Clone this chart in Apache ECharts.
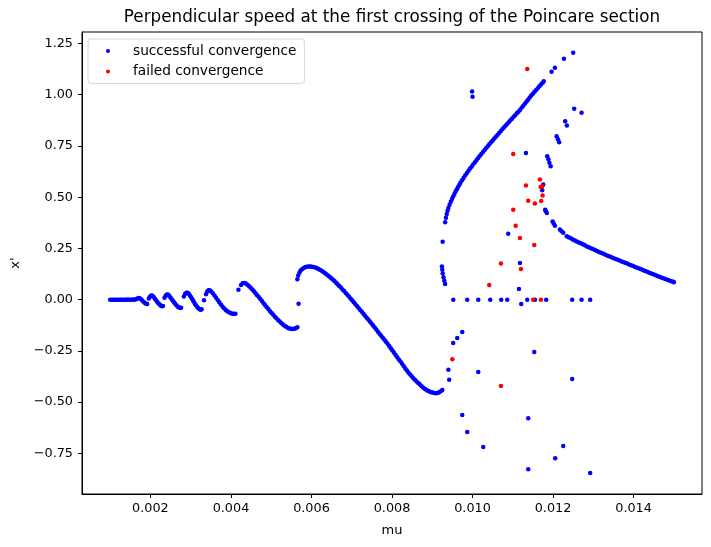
<!DOCTYPE html>
<html>
<head>
<meta charset="utf-8">
<title>Perpendicular speed</title>
<script src="https://cdn.jsdelivr.net/npm/echarts@6/dist/echarts.min.js"></script>
<style>
html, body { margin: 0; padding: 0; background: #fff; }
#main { width: 711px; height: 547px; }
</style>
</head>
<body>
<div id="main"></div>
<script>
// tick labels
var xTicks = [0.002, 0.004, 0.006, 0.008, 0.010, 0.012, 0.014];
var yTicks = [-0.75, -0.5, -0.25, 0, 0.25, 0.5, 0.75, 1.0, 1.25];

// flat start + small saw teeth (mu 0.001 .. 0.0057)
var okTeeth = [
    [0.00100,0],[0.00104,0],[0.00108,0],[0.00112,0],[0.00116,0],[0.00120,0],[0.00124,0],[0.00128,0],
    [0.00132,0],[0.00136,0],[0.00140,0],[0.00144,0.001],[0.00148,0],[0.00152,0],[0.00156,0.001],[0.00160,0],[0.00164,0.002],
    [0.00167,0.005],[0.00170,0.008],[0.00173,0.007],[0.00176,0.003],[0.00179,-0.003],[0.00182,-0.009],[0.00185,-0.014],[0.00188,-0.018],[0.00192,-0.021],
    [0.00196,0.006],[0.00199,0.015],[0.00202,0.020],[0.00205,0.019],[0.00208,0.013],[0.00211,0.005],[0.00214,-0.003],[0.00217,-0.011],
    [0.00220,-0.018],[0.00223,-0.024],[0.00226,-0.029],[0.00229,-0.032],[0.00231,-0.031],
    [0.00235,0.010],[0.00238,0.020],[0.00241,0.025],[0.00244,0.024],[0.00247,0.018],[0.00250,0.010],[0.00253,0.002],[0.00256,-0.006],
    [0.00259,-0.014],[0.00262,-0.021],[0.00265,-0.028],[0.00268,-0.034],[0.00271,-0.038],[0.00274,-0.040],[0.00276,-0.039],
    [0.00283,0.016],[0.00286,0.028],[0.00289,0.034],[0.00292,0.034],[0.00295,0.029],[0.00298,0.021],[0.00301,0.012],[0.00304,0.002],
    [0.00307,-0.008],[0.00310,-0.018],[0.00313,-0.027],[0.00316,-0.035],[0.00319,-0.042],[0.00322,-0.047],[0.00325,-0.049],[0.00327,-0.047],
    [0.00333,-0.003],
    [0.00338,0.026],[0.00341,0.040],[0.00344,0.046],[0.00347,0.046],[0.00351,0.040],[0.00355,0.031],[0.00359,0.021],[0.00363,0.010],
    [0.00367,-0.001],[0.00371,-0.012],[0.00375,-0.023],[0.00379,-0.033],[0.00383,-0.042],[0.00387,-0.050],[0.00391,-0.056],[0.00395,-0.061],
    [0.00399,-0.065],[0.00403,-0.068],[0.00407,-0.069],[0.00411,-0.068],
    [0.004185,0.049],[0.00425,0.072],[0.00429,0.080],[0.00433,0.082],[0.00437,0.079],[0.00441,0.073],[0.00445,0.066],[0.00449,0.058],
    [0.00453,0.050],[0.00457,0.041],[0.00461,0.032],[0.00465,0.022],[0.00469,0.013],[0.00473,0.003],[0.00477,-0.007],[0.00481,-0.017],
    [0.00485,-0.027],[0.00489,-0.037],[0.00493,-0.046],[0.00497,-0.056],[0.00501,-0.065],[0.00505,-0.074],[0.00509,-0.083],[0.00513,-0.091],
    [0.00517,-0.099],[0.00521,-0.107],[0.00525,-0.114],[0.00529,-0.121],[0.00533,-0.127],[0.00537,-0.132],[0.00541,-0.137],[0.00545,-0.140],
    [0.00549,-0.142],[0.00553,-0.143],[0.00557,-0.142],[0.00561,-0.139],[0.00565,-0.134],
    [0.00568,-0.020]
];

// big wave (mu 0.00565 .. 0.00925)
var okWave = [
    [0.00565,0.100],[0.00567,0.118],[0.00570,0.132],[0.00573,0.142],[0.00577,0.150],[0.00581,0.155],[0.00585,0.159],[0.00589,0.161],
    [0.00593,0.162],[0.00597,0.162],[0.00601,0.161],[0.00605,0.159],[0.00609,0.157],[0.00613,0.154],[0.00617,0.150],[0.00621,0.146],
    [0.00625,0.141],[0.00629,0.136],[0.00633,0.130],[0.00637,0.124],[0.00641,0.118],[0.00645,0.112],[0.00649,0.105],[0.00653,0.098],
    [0.00657,0.091],[0.00661,0.083],[0.00665,0.075],[0.00669,0.067],[0.00673,0.059],[0.00677,0.050],[0.00681,0.042],[0.00685,0.033],
    [0.00689,0.024],[0.00693,0.015],[0.00697,0.006],[0.00701,-0.003],[0.00705,-0.012],[0.00709,-0.022],[0.00713,-0.031],[0.00717,-0.040],
    [0.00721,-0.050],[0.00725,-0.059],[0.00729,-0.069],[0.00733,-0.078],[0.00737,-0.088],[0.00741,-0.097],[0.00745,-0.106],[0.00749,-0.116],
    [0.00753,-0.126],[0.00757,-0.136],[0.00761,-0.146],[0.00765,-0.156],[0.00769,-0.166],[0.00773,-0.176],[0.00777,-0.186],[0.00781,-0.195],
    [0.00785,-0.205],[0.00789,-0.215],[0.00793,-0.226],[0.00797,-0.237],[0.00801,-0.248],[0.00805,-0.259],[0.00809,-0.270],[0.00813,-0.281],
    [0.00817,-0.292],[0.00821,-0.302],[0.00825,-0.313],[0.00829,-0.324],[0.00833,-0.336],[0.00837,-0.346],[0.00841,-0.356],[0.00845,-0.365],
    [0.00849,-0.374],[0.00853,-0.383],[0.00857,-0.391],[0.00861,-0.399],[0.00865,-0.406],[0.00869,-0.413],[0.00873,-0.421],[0.00877,-0.428],
    [0.00881,-0.434],[0.00885,-0.439],[0.00889,-0.444],[0.00893,-0.448],[0.00897,-0.451],[0.00901,-0.453],[0.00905,-0.455],[0.00909,-0.456],
    [0.00913,-0.455],[0.00917,-0.452],[0.00921,-0.447],[0.00925,-0.441]
];

// upper branch rising to 1.2
var okUpper = [
    [0.00932,0.378],[0.00934,0.400],[0.00936,0.418],[0.00938,0.434],[0.00940,0.447],[0.00943,0.463],[0.00946,0.478],[0.00949,0.491],
    [0.00952,0.504],[0.00955,0.516],[0.00958,0.528],[0.00961,0.539],[0.00964,0.550],[0.00967,0.560],[0.00970,0.570],[0.00974,0.583],
    [0.00978,0.595],[0.00982,0.607],[0.00986,0.618],[0.00990,0.629],[0.00994,0.640],[0.00998,0.650],[0.01002,0.661],[0.01006,0.671],
    [0.01010,0.681],[0.01014,0.691],[0.01018,0.701],[0.01022,0.711],[0.01026,0.721],[0.01030,0.730],[0.01034,0.740],[0.01038,0.749],
    [0.01042,0.759],[0.01046,0.768],[0.01050,0.777],[0.01054,0.786],[0.01058,0.795],[0.01062,0.804],[0.01066,0.813],[0.01070,0.822],
    [0.01074,0.831],[0.01078,0.840],[0.01082,0.849],[0.01086,0.857],[0.01090,0.866],[0.01094,0.875],[0.01098,0.883],[0.01102,0.892],
    [0.01106,0.900],[0.01110,0.909],[0.01114,0.917],[0.01118,0.926],[0.01122,0.936],[0.01126,0.946],[0.01130,0.956],[0.01134,0.966],
    [0.01138,0.976],[0.01142,0.986],[0.01146,0.996],[0.01150,1.005],[0.01154,1.014],[0.01158,1.023],[0.01162,1.032],[0.01166,1.041],
    [0.01170,1.050],[0.01174,1.059],[0.01177,1.066],
    [0.011964,1.112],[0.012046,1.131],[0.01227,1.175],[0.012501,1.205]
];

// right-hand branch, both arms and the tail to 0.015
var okRight = [
    [0.012709,0.912],[0.012526,0.931],[0.012302,0.871],[0.012343,0.850],[0.012089,0.797],[0.012122,0.783],[0.012153,0.768],
    [0.011855,0.700],[0.011885,0.685],[0.01191,0.668],[0.01194,0.651],
    [0.011805,0.439],[0.01182,0.431],[0.011846,0.423],[0.011989,0.382],[0.012015,0.372],[0.012046,0.361],
    [0.012171,0.342],[0.012212,0.334],[0.012253,0.326],
    [0.01234,0.310],[0.01239,0.305],[0.01244,0.300],[0.01249,0.294],[0.01254,0.289],[0.01259,0.284],[0.01264,0.279],[0.01269,0.275],
    [0.01274,0.270],[0.01279,0.265],[0.01284,0.260],[0.01289,0.256],[0.01294,0.251],[0.01299,0.247],[0.01304,0.242],[0.01309,0.238],
    [0.01314,0.233],[0.01319,0.229],[0.01324,0.225],[0.01329,0.220],[0.01334,0.216],[0.01339,0.212],[0.01344,0.208],[0.01349,0.204],
    [0.01354,0.200],[0.01359,0.196],[0.01364,0.192],[0.01369,0.188],[0.01374,0.184],[0.01379,0.180],[0.01384,0.176],[0.01389,0.172],
    [0.01394,0.168],[0.01399,0.164],[0.01404,0.160],[0.01409,0.156],[0.01414,0.152],[0.01419,0.148],[0.01424,0.144],[0.01429,0.140],
    [0.01434,0.136],[0.01439,0.132],[0.01444,0.128],[0.01449,0.124],[0.01454,0.120],[0.01459,0.116],[0.01464,0.112],[0.01469,0.108],
    [0.01474,0.104],[0.01479,0.101],[0.01484,0.097],[0.01489,0.094],[0.01494,0.090],[0.01499,0.087],[0.01500,0.085]
];

// scattered successful points
var okScatter = [
    [0.00924,0.162],[0.00925,0.146],[0.00926,0.128],[0.00928,0.110],[0.00930,0.092],[0.00932,0.076],[0.009258,0.283],
    [0.00940,-0.342],[0.00942,-0.391],[0.00952,-0.211],[0.00962,-0.187],[0.009745,-0.158],
    [0.00999,1.016],[0.01000,0.990],[0.011327,0.716],[0.010887,0.322],[0.011178,0.179],[0.011153,0.052],[0.01121,-0.021],
    [0.011756,0.562],[0.011731,0.534],
    [0.009522,0],[0.009869,0],[0.010142,0],[0.01044,0],[0.010713,0],[0.010862,0],[0.011359,0],[0.01155,0],
    [0.01183,0],[0.012476,0],[0.012709,0],[0.012923,0],
    [0.011533,-0.255],[0.010142,-0.353],[0.012476,-0.387],[0.009745,-0.563],[0.009869,-0.646],[0.010267,-0.719],
    [0.011384,-0.578],[0.012253,-0.714],[0.012054,-0.773],[0.011384,-0.827],[0.012923,-0.846]
];

// failed convergence
var failed = [
    [0.011359,1.126],[0.011011,0.711],[0.011674,0.586],[0.011692,0.550],[0.011731,0.553],[0.011741,0.508],
    [0.011327,0.557],[0.011384,0.483],[0.01155,0.469],[0.011706,0.482],[0.011011,0.439],[0.011071,0.361],
    [0.011178,0.301],[0.011533,0.267],[0.010706,0.176],[0.011202,0.150],[0.010415,0.072],[0.011508,0],
    [0.011699,0],[0.0095,-0.29],[0.010706,-0.421]
];

var okAll = okTeeth.concat(okWave, okUpper, okRight, okScatter);

function minus(s){ return s.replace('-', '\u2212'); }

var chart = echarts.init(document.getElementById('main'));
chart.setOption({
    animation: false,
    backgroundColor: '#fff',
    textStyle: { fontFamily: 'DejaVu Sans' },
    title: {
        text: 'Perpendicular speed at the first crossing of the Poincare section',
        left: 392, top: 9, padding: 0, textAlign: 'center',
        textStyle: { fontFamily: 'DejaVu Sans', fontSize: 16.8, fontWeight: 'normal', color: '#000' }
    },
    legend: {
        orient: 'vertical',
        left: 88, top: 39,
        padding: [4, 8, 4, 18],
        itemGap: 4.6,
        itemWidth: 40, itemHeight: 4,
        backgroundColor: 'rgba(255,255,255,0.8)',
        borderColor: '#d6d6d6', borderWidth: 1, borderRadius: 3,
        textStyle: { fontFamily: 'DejaVu Sans', fontSize: 13.7, color: '#000', lineHeight: 16 },
        data: ['successful convergence', 'failed convergence']
    },
    grid: {
        left: 82, right: 9, top: 32, bottom: 53,
        show: true, borderColor: '#000', borderWidth: 1
    },
    xAxis: {
        type: 'value',
        min: 0.0003, max: 0.0157,
        name: 'mu', nameLocation: 'middle', nameGap: 30,
        nameTextStyle: { fontFamily: 'DejaVu Sans', fontSize: 13, color: '#000' },
        axisLine: { show: true, onZero: false, lineStyle: { color: '#000', width: 1 } },
        axisTick: { show: true, length: 4, customValues: xTicks, lineStyle: { color: '#000' } },
        axisLabel: {
            customValues: xTicks, margin: 8, color: '#000', fontSize: 12.8, fontFamily: 'DejaVu Sans',
            formatter: function(v){ return v.toFixed(3); }
        },
        splitLine: { show: false }
    },
    yAxis: {
        type: 'value',
        min: -0.948, max: 1.306,
        name: "x'", nameLocation: 'middle', nameGap: 60, nameRotate: 90,
        nameTextStyle: { fontFamily: 'DejaVu Sans', fontSize: 13, color: '#000' },
        axisLine: { show: true, onZero: false, lineStyle: { color: '#000', width: 1 } },
        axisTick: { show: true, length: 4, customValues: yTicks, lineStyle: { color: '#000' } },
        axisLabel: {
            customValues: yTicks, margin: 9, color: '#000', fontSize: 12.8, fontFamily: 'DejaVu Sans',
            formatter: function(v){ return minus(v.toFixed(2)); }
        },
        splitLine: { show: false }
    },
    series: [
        {
            name: 'successful convergence',
            type: 'scatter',
            symbol: 'circle',
            symbolSize: 4.5,
            itemStyle: { color: '#0000ff', opacity: 1 },
            emphasis: { disabled: true },
            data: okAll
        },
        {
            name: 'failed convergence',
            type: 'scatter',
            symbol: 'circle',
            symbolSize: 4.5,
            itemStyle: { color: '#ff0000', opacity: 1 },
            emphasis: { disabled: true },
            data: failed
        }
    ]
});
</script>
</body>
</html>
